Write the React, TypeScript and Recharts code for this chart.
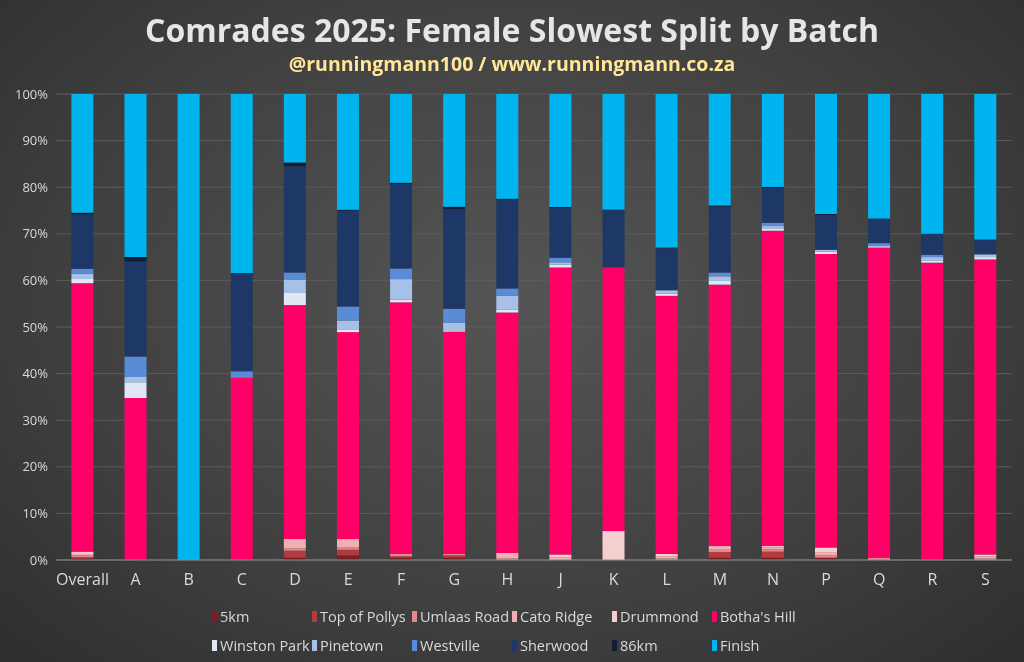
import { BarChart, Bar, XAxis, YAxis, CartesianGrid } from 'recharts';

const batches = ['Overall', 'A', 'B', 'C', 'D', 'E', 'F', 'G', 'H', 'J', 'K', 'L', 'M', 'N', 'P', 'Q', 'R', 'S'];

const km5 = [0.3, 0, 0, 0, 0.5, 1, 0.5, 0.5, 0, 0, 0, 0, 0.5, 0.5, 0.5, 0, 0, 0];
const topOfPollys = [0.3, 0, 0, 0, 1.5, 1.2, 0.3, 0.5, 0, 0, 0, 0, 1.2, 1.3, 0, 0, 0, 0];
const umlaasRoad = [0.4, 0, 0, 0, 0.5, 0.5, 0.5, 0.3, 0.3, 0, 0, 0.3, 0.5, 0.5, 0.5, 0.5, 0, 0.3];
const catoRidge = [0.3, 0, 0, 0, 2, 1.8, 0, 0, 1.2, 0.6, 0, 0.5, 0.8, 0.4, 0.7, 0, 0, 0.5];
const drummond = [0.5, 0, 0, 0, 0, 0, 0, 0, 0, 0.6, 6.2, 0.5, 0, 0.3, 1, 0, 0, 0.4];
const bothasHill = [57.6, 34.8, 0, 39.1, 50.2, 44.5, 54.1, 47.7, 51.7, 61.7, 56.6, 55.5, 56.2, 67.8, 63.1, 66.5, 63.8, 63.3];
const winstonPark = [0.9, 3.4, 0, 0, 2.6, 0.6, 0.6, 0.3, 0.6, 0.6, 0, 0.5, 0.8, 0.5, 0.5, 0, 0.5, 0.5];
const pinetown = [1.1, 1.1, 0, 0, 2.9, 1.9, 4.4, 1.6, 3.0, 0.5, 0, 0.7, 1.0, 0.5, 0.4, 0.5, 0.7, 0.6];
const westville = [1.1, 4.4, 0, 1.4, 1.5, 3.0, 2.3, 3.0, 1.6, 1.0, 0, 0, 0.8, 0.7, 0, 0.5, 0.5, 0];
const sherwood = [11.7, 20.4, 0, 21.1, 22.8, 20.6, 18.2, 21.4, 19.1, 10.7, 12.4, 9, 14.2, 7.5, 7.5, 5.3, 4.5, 3.2];
const km86 = [0.3, 1, 0, 0, 0.8, 0.2, 0.2, 0.5, 0.2, 0.2, 0, 0.2, 0.2, 0.2, 0.2, 0, 0, 0];
const finish = [25.5, 35, 100, 38.4, 14.7, 24.9, 19.1, 24.2, 22.5, 24.3, 24.8, 33, 24, 20, 25.8, 26.7, 30, 31.2];

const yTicks = [0, 0.1, 0.2, 0.3, 0.4, 0.5, 0.6, 0.7, 0.8, 0.9, 1];

const series = [
  { key: '5km', name: '5km', values: km5, color: '#7a1f24' },
  { key: 'pollys', name: 'Top of Pollys', values: topOfPollys, color: '#b33a3e' },
  { key: 'umlaas', name: 'Umlaas Road', values: umlaasRoad, color: '#e0898f' },
  { key: 'cato', name: 'Cato Ridge', values: catoRidge, color: '#f0b0b3' },
  { key: 'drummond', name: 'Drummond', values: drummond, color: '#f6d0d1' },
  { key: 'botha', name: "Botha's Hill", values: bothasHill, color: '#ff0066' },
  { key: 'winston', name: 'Winston Park', values: winstonPark, color: '#dfe7f5' },
  { key: 'pinetown', name: 'Pinetown', values: pinetown, color: '#a6c0e8' },
  { key: 'westville', name: 'Westville', values: westville, color: '#5a8bd6' },
  { key: 'sherwood', name: 'Sherwood', values: sherwood, color: '#1d3866' },
  { key: 'km86', name: '86km', values: km86, color: '#0f1d36' },
  { key: 'finish', name: 'Finish', values: finish, color: '#00b4f0' },
];

const data = batches.map((b, i) => {
  const row: Record<string, string | number> = { batch: b };
  series.forEach(s => { row[s.key] = s.values[i]; });
  return row;
});

const font = '"Liberation Sans Narrow", "Open Sans", sans-serif';

export default function App() {
  return (
    <div style={{
      position: 'fixed', left: 0, top: 0, width: 1024, height: 662, overflow: 'hidden',
      background: 'radial-gradient(ellipse at 50% 45%, #555 0%, #404040 60%, #2e2e2e 100%)',
      fontFamily: font,
    }}>
      <div style={{ position: 'absolute', top: 8, width: '100%', textAlign: 'center', color: '#e6e6e6',
        fontFamily: '"Open Sans", sans-serif', fontWeight: 700, fontSize: 32 }}>
        Comrades 2025: Female Slowest Split by Batch
      </div>
      <div style={{ position: 'absolute', top: 50, width: '100%', textAlign: 'center', color: '#ffe699',
        fontFamily: '"Open Sans", sans-serif', fontWeight: 700, fontSize: 19.5 }}>
        @runningmann100 / www.runningmann.co.za
      </div>
      <BarChart width={1024} height={662} data={data} stackOffset="expand" barCategoryGap="29%"
        margin={{ top: 94, right: 12, left: 0, bottom: 72 }}>
        <CartesianGrid vertical={false} stroke="#5c5c5c" />
        <XAxis dataKey="batch" height={30} axisLine={{ stroke: '#8a8a8a' }} tickLine={false}
          tick={{ fill: '#d9d9d9', fontSize: 16, fontFamily: font }} tickMargin={8} />
        <YAxis width={56} ticks={yTicks} domain={[0, 1]} axisLine={false} tickLine={false}
          tickFormatter={(v: number) => `${Math.round(v * 100)}%`}
          tick={{ fill: '#d9d9d9', fontSize: 13, fontFamily: font }} />
        {series.map(s => (
          <Bar key={s.key} dataKey={s.key} name={s.name} stackId="a" fill={s.color} isAnimationActive={false} />
        ))}
      </BarChart>
      {[series.slice(0, 6), series.slice(6)].map((row, r) => (
        <div key={r} style={{ position: 'absolute', left: 212, top: 607 + r * 29, display: 'flex' }}>
          {row.map(s => (
            <div key={s.key} style={{ width: 100, display: 'flex', alignItems: 'center', color: '#d9d9d9', fontSize: 14.5 }}>
              <span style={{ width: 5, height: 11, background: s.color, marginRight: 3 }} />
              {s.name}
            </div>
          ))}
        </div>
      ))}
    </div>
  );
}
